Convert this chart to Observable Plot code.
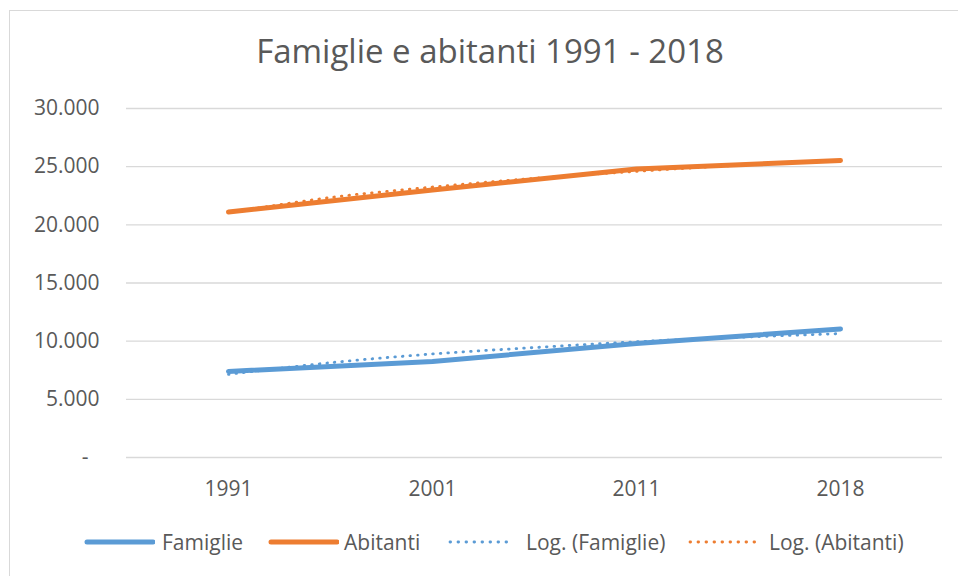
<!DOCTYPE html>
<html>
<head>
<meta charset="utf-8">
<script src="https://cdn.jsdelivr.net/npm/d3@7"></script>
<script src="https://cdn.jsdelivr.net/npm/@observablehq/plot@0.6"></script>
<style>
  html, body { margin: 0; padding: 0; background: #fff; overflow: hidden; }
  #wrap { position: relative; width: 958px; height: 576px; overflow: hidden; font-family: "Open Sans", sans-serif; color: #595959; }
  #frame { position: absolute; left: 9px; top: 10px; width: 1000px; height: 700px; border-left: 1.5px solid #d9d9d9; border-top: 1.5px solid #d9d9d9; box-sizing: border-box; }
  #title { position: absolute; top: 28px; left: 0; width: 980px; text-align: center; font-size: 33px; white-space: nowrap; }
  #chart { position: absolute; left: 0; top: 0; }
  #legend { position: absolute; top: 0; left: 0; width: 958px; height: 576px; font-size: 21px; white-space: nowrap; }
  .sw { position: absolute; top: 537px; display: block; }
  .lt { position: absolute; top: 527px; line-height: 30px; }
</style>
</head>
<body>
<div id="wrap">
  <div id="frame"></div>
  <div id="chart"></div>
  <div id="title">Famiglie e abitanti 1991 - 2018</div>
  <div id="legend"></div>
</div>
<script>
const years = ["1991", "2001", "2011", "2018"];
const yearIndex = [0, 1, 2, 3];
const famiglie = [7400, 8250, 9800, 11050];
const abitanti = [21100, 23000, 24800, 25530];
// trendline readings at category positions and midpoints
const trendIndex = [0, 0.5, 1, 1.5, 2, 2.5, 3];
const logFamiglie = [7150, 8150, 8900, 9450, 9950, 10330, 10650];
const logAbitanti = [21050, 22350, 23250, 24000, 24600, 25120, 25550];
const yTicks = [0, 5000, 10000, 15000, 20000, 25000, 30000];
const seriesLabels = ["Famiglie", "Abitanti", "Log. (Famiglie)", "Log. (Abitanti)"];

const blue = "#5B9BD5", orange = "#ED7D31";

const famRows = yearIndex.map((i) => ({x: i, y: famiglie[i]}));
const abiRows = yearIndex.map((i) => ({x: i, y: abitanti[i]}));
const famTrend = trendIndex.map((t, k) => ({x: t, y: logFamiglie[k]}));
const abiTrend = trendIndex.map((t, k) => ({x: t, y: logAbitanti[k]}));

const fmt = (d) => d === 0 ? "-\u00a0\u00a0" : d3.format(",")(d).replace(/,/g, ".");
const dots = "0.6,7";

const chart = Plot.plot({
  width: 958,
  height: 576,
  marginTop: 108,
  marginBottom: 119,
  marginLeft: 126,
  marginRight: 16,
  style: {fontFamily: "'Open Sans', sans-serif", fontSize: "21px", color: "#595959", background: "transparent", overflow: "visible"},
  x: {domain: [-0.5, 3.5]},
  y: {domain: [0, 30000]},
  marks: [
    Plot.ruleY(yTicks, {stroke: "#d9d9d9", strokeWidth: 1.3}),
    Plot.axisY({ticks: yTicks, tickFormat: fmt, tickSize: 0, tickPadding: 27, label: null}),
    Plot.axisX({ticks: yearIndex, tickFormat: (i) => years[i], tickSize: 0, tickPadding: 24, label: null}),
    Plot.line(famRows, {x: "x", y: "y", stroke: blue, strokeWidth: 5, strokeLinecap: "round", strokeLinejoin: "round"}),
    Plot.line(abiRows, {x: "x", y: "y", stroke: orange, strokeWidth: 5, strokeLinecap: "round", strokeLinejoin: "round"}),
    Plot.line(famTrend, {x: "x", y: "y", stroke: blue, strokeWidth: 2.8, strokeDasharray: dots, strokeLinecap: "round", curve: "catmull-rom"}),
    Plot.line(abiTrend, {x: "x", y: "y", stroke: orange, strokeWidth: 2.8, strokeDasharray: dots, strokeLinecap: "round", curve: "catmull-rom"})
  ]
});
document.getElementById("chart").appendChild(chart);

// legend
const legendItems = [
  {label: seriesLabels[0], color: blue, dotted: false, x: 84, w: 71, tx: 162},
  {label: seriesLabels[1], color: orange, dotted: false, x: 268, w: 71, tx: 344},
  {label: seriesLabels[2], color: blue, dotted: true, x: 448, w: 66, tx: 526},
  {label: seriesLabels[3], color: orange, dotted: true, x: 688, w: 70, tx: 769}
];
const legend = document.getElementById("legend");
const ns = "http://www.w3.org/2000/svg";
for (const it of legendItems) {
  const s = document.createElementNS(ns, "svg");
  s.setAttribute("class", "sw");
  s.style.left = it.x + "px";
  s.setAttribute("width", it.w);
  s.setAttribute("height", 10);
  const l = document.createElementNS(ns, "line");
  l.setAttribute("x1", it.dotted ? 2 : 3);
  l.setAttribute("x2", it.w - 2);
  l.setAttribute("y1", 5);
  l.setAttribute("y2", 5);
  l.setAttribute("stroke", it.color);
  l.setAttribute("stroke-width", it.dotted ? 2.8 : 5);
  l.setAttribute("stroke-linecap", "round");
  if (it.dotted) l.setAttribute("stroke-dasharray", "0.6,7.4");
  s.appendChild(l);
  legend.appendChild(s);
  const sp = document.createElement("div");
  sp.className = "lt";
  sp.style.left = it.tx + "px";
  sp.textContent = it.label;
  legend.appendChild(sp);
}
</script>
</body>
</html>
